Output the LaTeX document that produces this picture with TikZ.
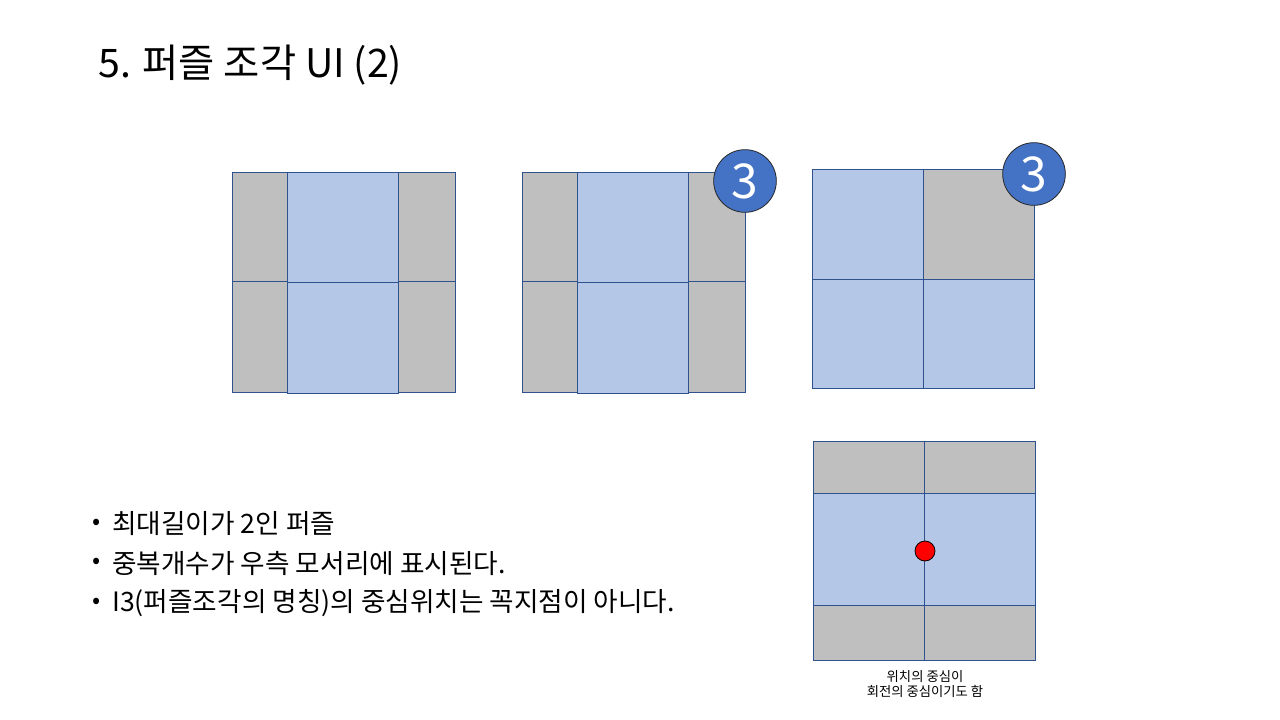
\documentclass[tikz,border=0pt]{standalone}
\usepackage{fontspec}
\setmainfont{Noto Sans CJK KR}
\definecolor{cellline}{HTML}{2F528F}
\definecolor{cellblue}{HTML}{B4C7E7}
\definecolor{cellgray}{HTML}{BFBFBF}
\definecolor{badgeblue}{HTML}{4472C4}
\tikzset{
  graycell/.style={draw=cellline, fill=cellgray, line width=0.75pt},
  bluecell/.style={draw=cellline, fill=cellblue, line width=0.75pt},
  badge/.style={circle, draw=black!85, fill=badgeblue, text=white, line width=0.6pt,
    minimum size=47pt, inner sep=0pt, font=\fontsize{36}{36}\selectfont},
  bullettext/.style={anchor=west, inner sep=0pt, font=\fontsize{20}{24}\selectfont},
}
\begin{document}
\begin{tikzpicture}[x=0.75pt,y=-0.75pt]
  \useasboundingbox (0,0) rectangle (1280,720);
  \node[anchor=base west, inner sep=0pt, font=\fontsize{29.5}{34}\selectfont] (title) at (98,78) {5. 퍼즐 조각 UI (2)};
  % two pieces with a blue column in the middle
  \foreach \ox in {0,290} {
    \foreach \x/\w in {232/287, 398/455} {
      \draw[graycell] (\x+\ox,173) rectangle (\w+\ox,281);
      \draw[graycell] (\x+\ox,281) rectangle (\w+\ox,392);
    }
    \draw[bluecell] (287+\ox,173) rectangle (398+\ox,282);
    \draw[bluecell] (287+\ox,282) rectangle (398+\ox,393);
  }
  \node[badge] (badge2) at (745,181) {3};
  % rotated piece
  \foreach \x/\y/\s [count=\n] in {812/170/bluecell, 923/170/graycell, 812/279/bluecell, 923/279/bluecell} {
    \draw[\s] (\x,\y) rectangle ++(111,109);
  }
  \node[badge] (badge3) at (1034,174) {3};
  % piece with its centre
  \foreach \y/\h/\s in {441/52/graycell, 493/112/bluecell, 605/55/graycell} {
    \draw[\s] (813,\y) rectangle ++(111,\h);
    \draw[\s] (924,\y) rectangle ++(111,\h);
  }
  \node[circle, draw=black, fill=red, line width=0.6pt, minimum size=15pt, inner sep=0pt] (centre) at (925,551) {};
  \node[align=center, inner sep=0pt, font=\fontsize{10}{11.5}\selectfont] (caption) at (925,684) {위치의 중심이\\회전의 중심이기도 함};
  % bullet list
  \foreach \t [count=\n] in {
        최대길이가 2인 퍼즐,
        중복개수가 우측 모서리에 표시된다.,
        I3(퍼즐조각의 명칭)의 중심위치는 꼭지점이 아니다.
  } {
       \node[font=\fontsize{18}{22}\selectfont, inner sep=0pt] (dot\n) at (97,524+39.5*\n-39.5) {•};
       \node[bullettext] (item\n) at (112,524+39.5*\n-39.5) {\t};
  }
\end{tikzpicture}
\end{document}
